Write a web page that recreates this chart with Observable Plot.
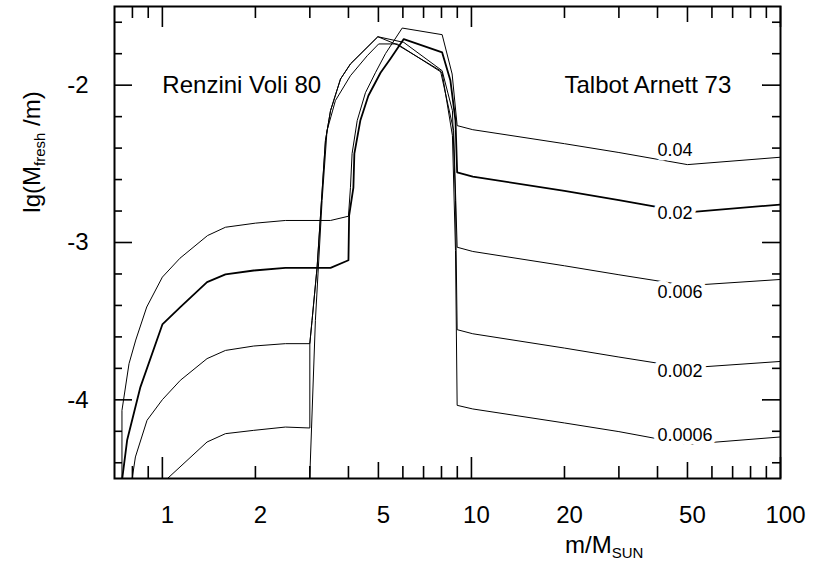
<!DOCTYPE html>
<html><head><meta charset="utf-8">
<script src="https://cdn.jsdelivr.net/npm/d3@7"></script>
<script src="https://cdn.jsdelivr.net/npm/@observablehq/plot@0.6"></script>
<style>
body{margin:0;background:#fff;}
svg{font-family:"Liberation Sans",Arial,Helvetica,sans-serif;}
</style>
</head><body><div id="chart"></div>
<script>
// metallicity labels
const seriesNames = ["0.04", "0.02", "0.006", "0.002", "0.0006"];

// Z = 0.04
const z04_m  = [0.74,0.74,0.78,0.82,0.89,1.0,1.14,1.4,1.6,2.0,2.5,3.5,4.0,4.06,4.11,4.27,4.54,4.89,5.27,5.97,8.04,8.66,8.99,10.1,20,30,50,100];
const z04_lg = [-4.7,-4.067,-3.77,-3.62,-3.41,-3.22,-3.10,-2.956,-2.903,-2.877,-2.86,-2.86,-2.833,-2.651,-2.435,-2.225,-2.048,-1.921,-1.80,-1.637,-1.679,-1.929,-2.257,-2.283,-2.372,-2.428,-2.505,-2.458];
// Z = 0.02
const z02_m  = [0.735,0.769,0.849,1.0,1.143,1.395,1.6,1.975,2.5,3.5,4.0,4.02,4.15,4.18,4.37,4.64,5.08,5.47,6.04,8.04,8.55,8.88,8.99,10.1,20,30,50,100];
const z02_lg = [-4.56,-4.257,-3.919,-3.521,-3.411,-3.252,-3.203,-3.178,-3.161,-3.161,-3.113,-2.829,-2.651,-2.435,-2.225,-2.067,-1.921,-1.832,-1.707,-1.792,-1.971,-2.225,-2.554,-2.581,-2.672,-2.730,-2.808,-2.759];
// Z = 0.006
const z006_m  = [0.79,0.818,0.892,1.0,1.143,1.395,1.6,1.975,2.5,3.0,3.05,3.167,3.37,3.50,3.77,4.06,4.98,5.75,7.94,8.76,8.99,10.1,20,30,50,100];
const z006_lg = [-4.56,-4.363,-4.130,-3.999,-3.876,-3.738,-3.686,-3.658,-3.643,-3.643,-3.495,-3.157,-2.352,-2.162,-1.961,-1.865,-1.692,-1.743,-1.908,-2.289,-3.030,-3.057,-3.148,-3.205,-3.274,-3.235];
// Z = 0.002
const z002_m  = [1.0,1.395,1.6,1.975,2.5,3.0,3.0,3.05,3.167,3.37,3.50,3.77,4.06,4.98,6.04,8.04,8.68,8.88,8.99,10.1,20,30,50,100];
const z002_lg = [-4.53,-4.268,-4.215,-4.194,-4.173,-4.179,-3.639,-3.495,-3.157,-2.352,-2.162,-1.961,-1.865,-1.692,-1.728,-1.908,-2.162,-2.733,-3.554,-3.580,-3.671,-3.728,-3.797,-3.756];
// Z = 0.0006
const z0006_m  = [2.98,3.127,3.287,3.41,3.63,4.06,4.60,5.01,5.75,8.04,8.68,8.88,8.99,10.1,20,30,50,100];
const z0006_lg = [-4.64,-3.495,-2.733,-2.289,-2.098,-1.940,-1.813,-1.738,-1.738,-1.921,-2.321,-3.051,-4.035,-4.058,-4.147,-4.202,-4.283,-4.236];

// curve label positions
const label_m  = [40, 40, 40, 40, 40];
const label_lg = [-2.416, -2.814, -3.316, -3.817, -4.225];

// annotations
const annot_text = ["Renzini Voli 80", "Talbot Arnett 73"];
const annot_m = [1.0, 20];
const annot_lg = [-2.0, -2.0];

// ticks
const xLabelTicks = [1, 2, 5, 10, 20, 50, 100];
const xDecadeTicks = [1, 10, 100];
const xMidTicks = [5, 50];
const xMinorTicks = [0.8, 0.9, 2, 3, 4, 6, 7, 8, 9, 20, 30, 40, 60, 70, 80, 90];
const yLabelTicks = [-2, -3, -4];
const yMinorTicks = [-1.6, -1.8, -2.2, -2.4, -2.6, -2.8, -3.2, -3.4, -3.6, -3.8, -4.2, -4.4];

const curves = [
  [seriesNames[0], z04_m, z04_lg],
  [seriesNames[1], z02_m, z02_lg],
  [seriesNames[2], z006_m, z006_lg],
  [seriesNames[3], z002_m, z002_lg],
  [seriesNames[4], z0006_m, z0006_lg]
];
const rows = curves.flatMap(([z, ms, ls]) => ms.map((m, i) => ({z, m, lg: ls[i]})));
const thinRows = rows.filter(d => d.z !== "0.02");
const thickRows = rows.filter(d => d.z === "0.02");
const labels = seriesNames.map((s, i) => ({text: s, m: label_m[i], lg: label_lg[i]}));
const annots = annot_text.map((t, i) => ({text: t, m: annot_m[i], lg: annot_lg[i]}));

const W = 822, H = 561, ML = 114, MR = 42, MT = 6, MB = 83;
const FW = W - ML - MR, FH = H - MT - MB;
const tickStyle = {stroke: "black", strokeWidth: 1.6};

const plot = Plot.plot({
  width: W, height: H,
  marginLeft: ML, marginRight: MR, marginTop: MT, marginBottom: MB,
  style: {background: "white", color: "black", fontFamily: "'Liberation Sans', Arial, Helvetica, sans-serif"},
  x: {type: "log", domain: [0.7, 100], axis: null},
  y: {domain: [-4.5, -1.5]},
  marks: [
    Plot.line(thinRows, {x: "m", y: "lg", z: "z", stroke: "black", strokeWidth: 1, clip: true}),
    Plot.line(thickRows, {x: "m", y: "lg", z: "z", stroke: "black", strokeWidth: 1.8, clip: true}),
    Plot.text(labels, {x: "m", y: "lg", text: "text", textAnchor: "start", fontSize: 18, fill: "black", stroke: "white", strokeWidth: 9, strokeLinejoin: "round"}),
    Plot.text(annots, {x: "m", y: "lg", text: "text", textAnchor: "start", fontSize: 24, fill: "black"}),
    // bottom ticks (inward)
    Plot.ruleX(xDecadeTicks, {...tickStyle, insetTop: FH - 21}),
    Plot.ruleX(xMidTicks, {...tickStyle, insetTop: FH - 16}),
    Plot.ruleX(xMinorTicks, {...tickStyle, insetTop: FH - 12}),
    // top ticks (inward)
    Plot.ruleX(xDecadeTicks, {...tickStyle, insetBottom: FH - 21}),
    Plot.ruleX(xMidTicks, {...tickStyle, insetBottom: FH - 16}),
    Plot.ruleX(xMinorTicks, {...tickStyle, insetBottom: FH - 12}),
    // left / right ticks
    Plot.ruleY(yLabelTicks, {...tickStyle, insetRight: FW - 18}),
    Plot.ruleY(yMinorTicks, {...tickStyle, insetRight: FW - 8}),
    Plot.ruleY(yLabelTicks, {...tickStyle, insetLeft: FW - 18}),
    Plot.ruleY(yMinorTicks, {...tickStyle, insetLeft: FW - 8}),
    // x tick labels
    Plot.text(xLabelTicks, {x: d => d, frameAnchor: "bottom", lineAnchor: "top", dy: 27, dx: 5, fontSize: 24, fill: "black", text: d => String(d)}),
    Plot.axisY(yLabelTicks, {anchor: "left", tickSize: 0, tickPadding: 26, fontSize: 24, label: null, tickFormat: d => String(d)}),
    Plot.frame({stroke: "black", strokeWidth: 2})
  ]
});

document.getElementById("chart").appendChild(plot);

// axis titles with subscripts
const svg = d3.select(plot);
const xt = svg.append("text")
  .attr("x", 565).attr("y", 553)
  .attr("text-anchor", "start")
  .attr("font-size", 24).attr("fill", "black");
xt.append("tspan").text("m/M");
xt.append("tspan").attr("font-size", 15).attr("dy", 5).text("SUN");

const yt = svg.append("text")
  .attr("transform", "translate(40,152) rotate(-90)")
  .attr("text-anchor", "middle")
  .attr("font-size", 24).attr("fill", "black");
yt.append("tspan").text("lg(M");
yt.append("tspan").attr("font-size", 15).attr("dy", 5).text("fresh");
yt.append("tspan").attr("dy", -5).text(" /m)");
</script>
</body></html>
